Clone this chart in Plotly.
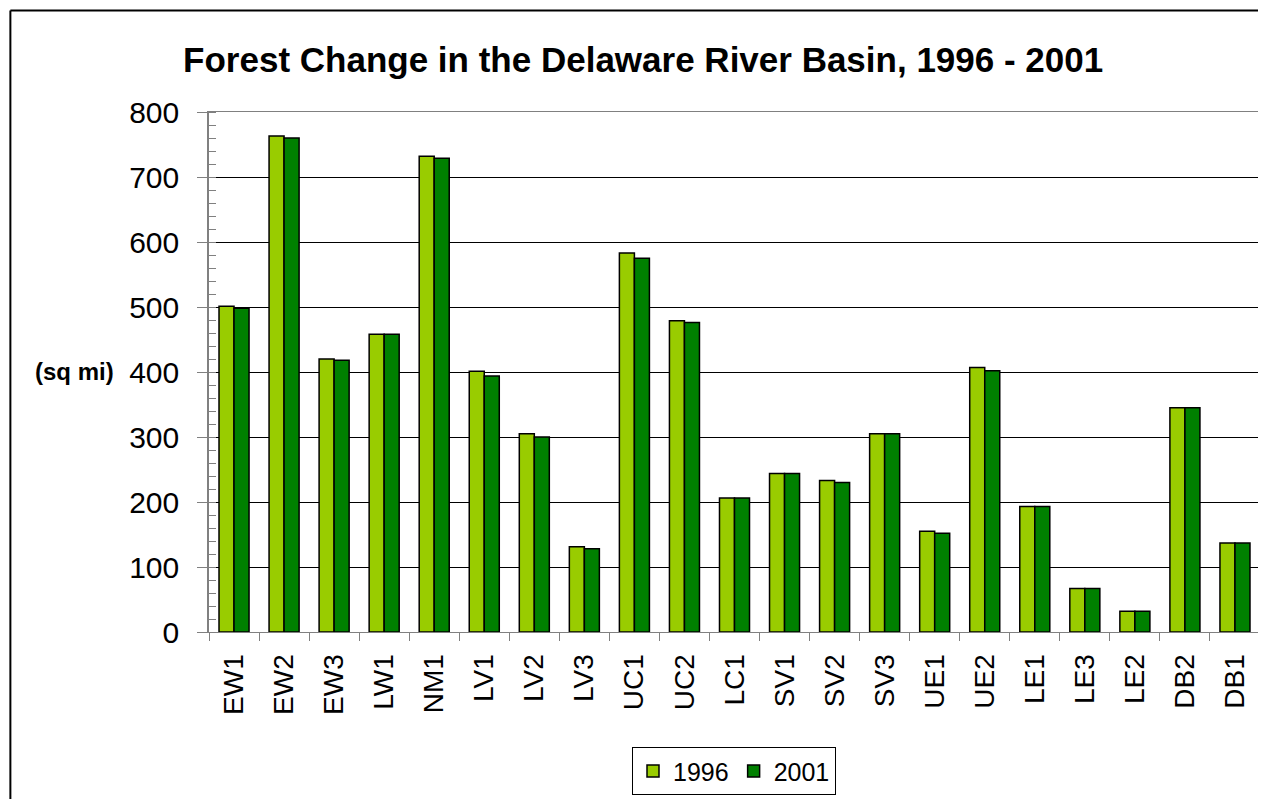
import plotly.graph_objects as go

categories = ["EW1", "EW2", "EW3", "LW1", "NM1", "LV1", "LV2", "LV3", "UC1", "UC2",
              "LC1", "SV1", "SV2", "SV3", "UE1", "UE2", "LE1", "LE3", "LE2", "DB2", "DB1"]
values_1996 = [501, 763, 420, 458, 732, 401, 305, 131, 583, 479,
               206, 244, 233, 305, 155, 407, 193, 67, 32, 345, 137]
values_2001 = [498, 760, 418, 458, 729, 394, 300, 128, 575, 476,
               206, 244, 230, 305, 152, 402, 193, 67, 32, 345, 137]
y_ticks = [0, 100, 200, 300, 400, 500, 600, 700, 800]

FONT = "Liberation Sans, Arial, sans-serif"

fig = go.Figure()
fig.add_trace(go.Bar(name="1996", x=categories, y=values_1996,
                     marker=dict(color="#99CC00", line=dict(color="black", width=1.5))))
fig.add_trace(go.Bar(name="2001", x=categories, y=values_2001,
                     marker=dict(color="#008000", line=dict(color="black", width=1.5))))

# page body adds an 8px offset
OFF = 8
W, H = 1266 - OFF, 799 - OFF
L, R, T, B = 209 - OFF, 4, 112 - OFF, 799 - 635
pw, ph = W - L - R, H - T - B

def px_to_paper_x(px):  # px in screen coords
    return (px - OFF - L) / pw

def px_to_paper_y(py):
    return (H - B - (py - OFF)) / ph

fig.update_layout(
    width=W, height=H,
    margin=dict(l=L, r=R, t=T, b=B, pad=0),
    paper_bgcolor="white", plot_bgcolor="white",
    barmode="group", bargap=0.4, bargroupgap=0,
    font=dict(family=FONT, color="black"),
    title=dict(text="<b>Forest Change in the Delaware River Basin, 1996 - 2001</b>",
               x=px_to_paper_x(644), xref="paper", xanchor="center",
               y=1 - (60 - OFF) / H, yanchor="middle", yref="container",
               font=dict(size=35, family=FONT, color="black")),
    showlegend=True,
    legend=dict(orientation="h", x=px_to_paper_x(735), xanchor="center",
                y=px_to_paper_y(751), yanchor="top",
                bordercolor="black", borderwidth=1, bgcolor="white",
                font=dict(size=25, family=FONT, color="black"),
                itemwidth=30, tracegroupgap=0),
    xaxis=dict(type="category", tickangle=-90, tickson="boundaries",
               ticks="outside", ticklen=8, tickcolor="#808080", tickwidth=1,
               ticklabelstandoff=10,
               showline=True, linecolor="#808080", linewidth=1, mirror=True,
               showgrid=False, tickfont=dict(size=28, family=FONT, color="black")),
    yaxis=dict(range=[0, 800], tickmode="array", tickvals=y_ticks,
               ticktext=[str(v) for v in y_ticks],
               ticks="outside", ticklen=10, tickcolor="#808080", tickwidth=1,
               ticklabelstandoff=12,
               showline=True, linecolor="#808080", linewidth=1.5, mirror=True,
               showgrid=True, gridcolor="black", gridwidth=1,
               zeroline=False,
               minor=dict(ticks="inside", dtick=20, ticklen=7, tickcolor="#808080",
                          showgrid=False),
               tickfont=dict(size=30, family=FONT, color="black")),
)

fig.add_annotation(text="<b>(sq mi)</b>", xref="paper", yref="paper",
                   x=px_to_paper_x(74), y=px_to_paper_y(373),
                   xanchor="center", yanchor="middle", showarrow=False,
                   font=dict(size=24, family=FONT, color="black"))

# outer chart frame (only left and top edges are visible in the reference crop)
fig.add_shape(type="line", xref="paper", yref="paper",
              x0=px_to_paper_x(10), x1=px_to_paper_x(10),
              y0=px_to_paper_y(820), y1=px_to_paper_y(10),
              line=dict(color="black", width=2), layer="below")
fig.add_shape(type="line", xref="paper", yref="paper",
              x0=px_to_paper_x(10), x1=px_to_paper_x(1300),
              y0=px_to_paper_y(10), y1=px_to_paper_y(10),
              line=dict(color="black", width=2), layer="below")

fig.write_html("out.html")
